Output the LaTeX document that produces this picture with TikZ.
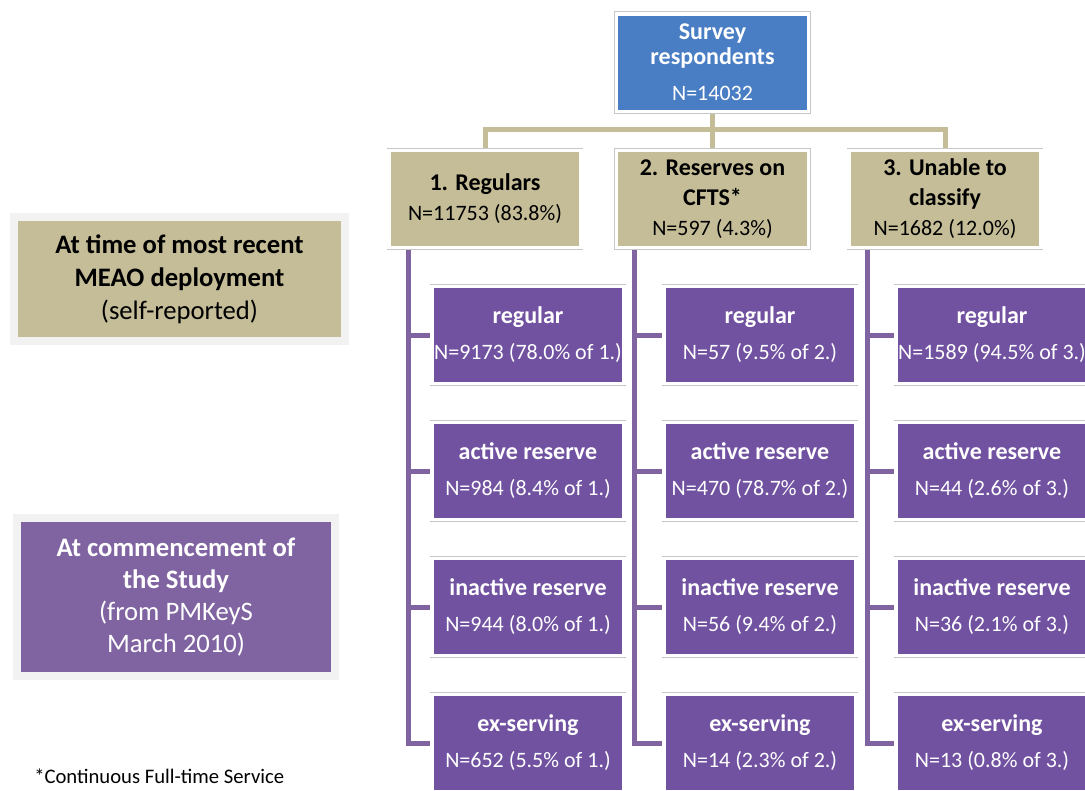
\documentclass[tikz,border=0pt]{standalone}
\usepackage{fontspec}
\setmainfont{Carlito}
\usetikzlibrary{calc}
\pgfdeclarelayer{bg}
\pgfsetlayers{bg,main}
\definecolor{tblue}{HTML}{4A7EC4}
\definecolor{tkhaki}{HTML}{C4BD97}
\definecolor{tpurple}{HTML}{7152A1}
\definecolor{lpurple}{HTML}{8064A2}
\definecolor{lgray}{HTML}{F2F2F2}
\newcommand{\hd}[1]{{\fontsize{18}{22.5}\selectfont\bfseries #1}}
\begin{document}
\begin{tikzpicture}[x=0.75pt,y=-0.75pt,
 box/.style={rectangle, minimum width=144pt, minimum height=73pt, inner sep=0pt, align=center,
   draw=white, line width=2.5pt, preaction={draw=black!22, line width=3.6pt},
   font=\fontsize{16.5}{22.5}\selectfont},
 topbox/.style={box, fill=tblue, text=white, font=\fontsize{16.5}{18.75}\selectfont},
 catbox/.style={box, fill=tkhaki, text=black},
 subbox/.style={box, fill=tpurple, text=white, font=\fontsize{16.5}{27}\selectfont},
 kline/.style={draw=tkhaki, line width=3.75pt},
 pline/.style={draw=lpurple, line width=3.75pt},
 legendbox/.style={rectangle, inner sep=0pt, align=center, draw=lgray, line width=6pt},
 note/.style={font=\fontsize{15.5}{18}\selectfont, anchor=west, inner sep=0pt}
]
\useasboundingbox (0,0) rectangle (1085,790);

% top
\node[topbox] (top) at (712.5,62.5) {\hd{Survey}\\\hd{respondents}\\[8.25pt]N=14032};

% categories
\node[catbox] (r1) at (485,199) {\hd{1. Regulars}\\N=11753 (83.8\%)};
\node[catbox] (r2) at (712.5,199) {\hd{2. Reserves on}\\\hd{CFTS*}\\N=597 (4.3\%)};
\node[catbox] (r3) at (945,199) {\hd{3. Unable to}\\\hd{classify}\\N=1682 (12.0\%)};

% column 1
\node[subbox] (s1a) at (528,335) {\hd{regular}\\N=9173 (78.0\% of 1.)};
\node[subbox] (s1b) at (528,471) {\hd{active reserve}\\N=984 (8.4\% of 1.)};
\node[subbox] (s1c) at (528,607) {\hd{inactive reserve}\\N=944 (8.0\% of 1.)};
\node[subbox] (s1d) at (528,743) {\hd{ex-serving}\\N=652 (5.5\% of 1.)};
% column 2
\node[subbox] (s2a) at (760,335) {\hd{regular}\\N=57 (9.5\% of 2.)};
\node[subbox] (s2b) at (760,471) {\hd{active reserve}\\N=470 (78.7\% of 2.)};
\node[subbox] (s2c) at (760,607) {\hd{inactive reserve}\\N=56 (9.4\% of 2.)};
\node[subbox] (s2d) at (760,743) {\hd{ex-serving}\\N=14 (2.3\% of 2.)};
% column 3
\node[subbox] (s3a) at (992,335) {\hd{regular}\\N=1589 (94.5\% of 3.)};
\node[subbox] (s3b) at (992,471) {\hd{active reserve}\\N=44 (2.6\% of 3.)};
\node[subbox] (s3c) at (992,607) {\hd{inactive reserve}\\N=36 (2.1\% of 3.)};
\node[subbox] (s3d) at (992,743) {\hd{ex-serving}\\N=13 (0.8\% of 3.)};

% legends
\node[legendbox, fill=tkhaki, minimum width=248pt, minimum height=93pt,
  font=\fontsize{20}{24.75}\selectfont] (lg1) at (179.5,279)
  {\textbf{At time of most recent}\\\textbf{MEAO deployment}\\(self-reported)};
\node[legendbox, fill=lpurple, text=white, minimum width=238.5pt, minimum height=118.5pt,
  font=\fontsize{20}{24}\selectfont] (lg2) at (176,597)
  {\textbf{At commencement of}\\\textbf{the Study}\\(from PMKeyS\\March 2010)};
\node[note] (fn) at (34,776) {*Continuous Full-time Service};

\coordinate (v1) at (408,0);
\coordinate (v2) at (634,0);
\coordinate (v3) at (867,0);

\begin{pgfonlayer}{bg}
\draw[kline] (top.south) -- (r2.north);
\draw[kline] (r1.north) -- ++(0,-19) -| (r3.north);
\draw[pline] (r1.south -| v1) |- (s1d.west);
\draw[pline] (r2.south -| v2) |- (s2d.west);
\draw[pline] (r3.south -| v3) |- (s3d.west);
\foreach \c in {1,2,3}{
  \foreach \r in {a,b,c}{
    \draw[pline] (v\c |- s\c\r.west) -- (s\c\r.west);
  }
}
\end{pgfonlayer}
\end{tikzpicture}
\end{document}
